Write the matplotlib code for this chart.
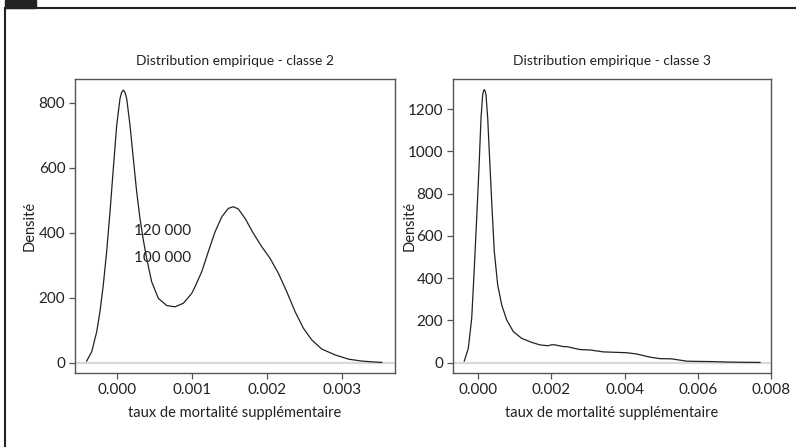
import matplotlib
matplotlib.use("Agg")
import matplotlib.pyplot as plt
from matplotlib.lines import Line2D
from matplotlib.patches import Rectangle

plt.rcParams['font.family'] = ['Lato', 'DejaVu Sans']

# classe 2 : densite empirique
x_c2 = [-0.000408, -0.000341, -0.000275, -0.000231, -0.000187, -0.000142,
        -0.000097, -0.000053, -0.000008, 0.000036, 0.000058, 0.00008,
        0.000102, 0.000125, 0.000169, 0.000213, 0.000258, 0.000302,
        0.000345, 0.000391, 0.000458, 0.000547, 0.000658, 0.000769,
        0.00088, 0.000991, 0.001036, 0.001125, 0.001213, 0.001303,
        0.001392, 0.00148, 0.001547, 0.001613, 0.001703, 0.001813,
        0.001925, 0.002036, 0.002147, 0.002259, 0.002369, 0.00248,
        0.002592, 0.002725, 0.002903, 0.00308, 0.003259, 0.003436,
        0.003525]
y_c2 = [5, 34, 95, 157, 239, 342, 465, 598, 731, 813, 832, 839,
        832, 813, 731, 629, 526, 444, 380, 321, 249, 198, 176, 172,
        183, 213, 234, 280, 342, 403, 449, 475, 480, 473, 444, 398,
        357, 321, 275, 218, 157, 106, 70, 42, 24, 11, 5, 2, 1]

# classe 3
x_c3 = [-0.000383, -0.000273, -0.00018, -0.000109, -0.000044, 0.000019,
        0.000074, 0.00012, 0.000142, 0.000164, 0.000187, 0.00021,
        0.000257, 0.0003, 0.000366, 0.000437, 0.00053, 0.00064,
        0.000776, 0.000957, 0.001186, 0.00146, 0.001687, 0.001913,
        0.002006, 0.002097, 0.002324, 0.002416, 0.00278, 0.003053,
        0.003417, 0.004057, 0.00433, 0.004694, 0.004967, 0.005286,
        0.005697, 0.00597, 0.006424, 0.00679, 0.007154, 0.0077]
y_c3 = [8, 68, 210, 447, 684, 921, 1158, 1268, 1285, 1292, 1285, 1268,
        1158, 1000, 763, 526, 368, 273, 202, 147, 115, 96, 84, 80,
        85, 84, 76, 76, 62, 60, 51, 47, 41, 26, 19, 18,
        7, 6, 5, 3, 2, 1]

titles = ["Distribution empirique - classe 2", "Distribution empirique - classe 3"]
xticks_c2 = [0.0, 0.001, 0.002, 0.003]
xticks_c3 = [0.0, 0.002, 0.004, 0.006, 0.008]
yticks_c2 = [0, 200, 400, 600, 800]
yticks_c3 = [0, 200, 400, 600, 800, 1000, 1200]
labels_c2 = ["120 000", "100 000"]
labels_c2_y = [405, 322]

fig = plt.figure(figsize=(7.96, 4.47), dpi=100)
ax1 = fig.add_axes([0.0942, 0.1655, 0.402, 0.6577])
ax2 = fig.add_axes([0.5687, 0.1655, 0.3999, 0.6577])

panels = [
    (ax1, x_c2, y_c2, xticks_c2, yticks_c2, (-0.000564, 0.0037), (-31.7, 873), -0.12),
    (ax2, x_c3, y_c3, xticks_c3, yticks_c3, (-0.0007, 0.008), (-49, 1342), -0.113),
]

for i, (ax, xs, ys, xt, yt, xl, yl, ylab_x) in enumerate(panels):
    ax.axhline(0, color='#d9d9d9', lw=1.6, zorder=1)
    ax.plot(xs, ys, color='#222222', lw=0.9, zorder=2)
    ax.set_xlim(*xl)
    ax.set_ylim(*yl)
    ax.set_xticks(xt)
    ax.set_xticklabels([f"{v:.3f}" for v in xt])
    ax.set_yticks(yt)
    ax.set_yticklabels([str(v) for v in yt])
    for s in ax.spines.values():
        s.set_color('#555555')
        s.set_linewidth(1.0)
    ax.tick_params(direction='out', length=4, width=0.9, color='#555555',
                   labelsize=11, labelcolor='#222222', pad=3)
    ax.set_title(titles[i], fontsize=10, color='#222222', pad=10)
    ax.set_xlabel("taux de mortalité supplémentaire", fontsize=10.5,
                  color='#222222')
    ax.xaxis.set_label_coords(0.5, -0.113)
    ax.set_ylabel("Densité", fontsize=10.5, color='#222222')
    ax.yaxis.set_label_coords(ylab_x, 0.5)

for lab, yv in zip(labels_c2, labels_c2_y):
    ax1.text(0.000223, yv, lab, fontsize=11, color='#222222',
             ha='left', va='center')

# cadre de la page
fig.add_artist(Line2D([0.0063, 1.0], [0.983, 0.983], color='#222222', lw=1.5,
                      transform=fig.transFigure))
fig.add_artist(Line2D([0.0069, 0.0069], [0.0, 0.983], color='#222222', lw=1.5,
                      transform=fig.transFigure))
fig.add_artist(Rectangle((0.0063, 0.983), 0.039, 0.017, color='#222222',
                         transform=fig.transFigure))

fig.savefig("out.png", dpi=100)
